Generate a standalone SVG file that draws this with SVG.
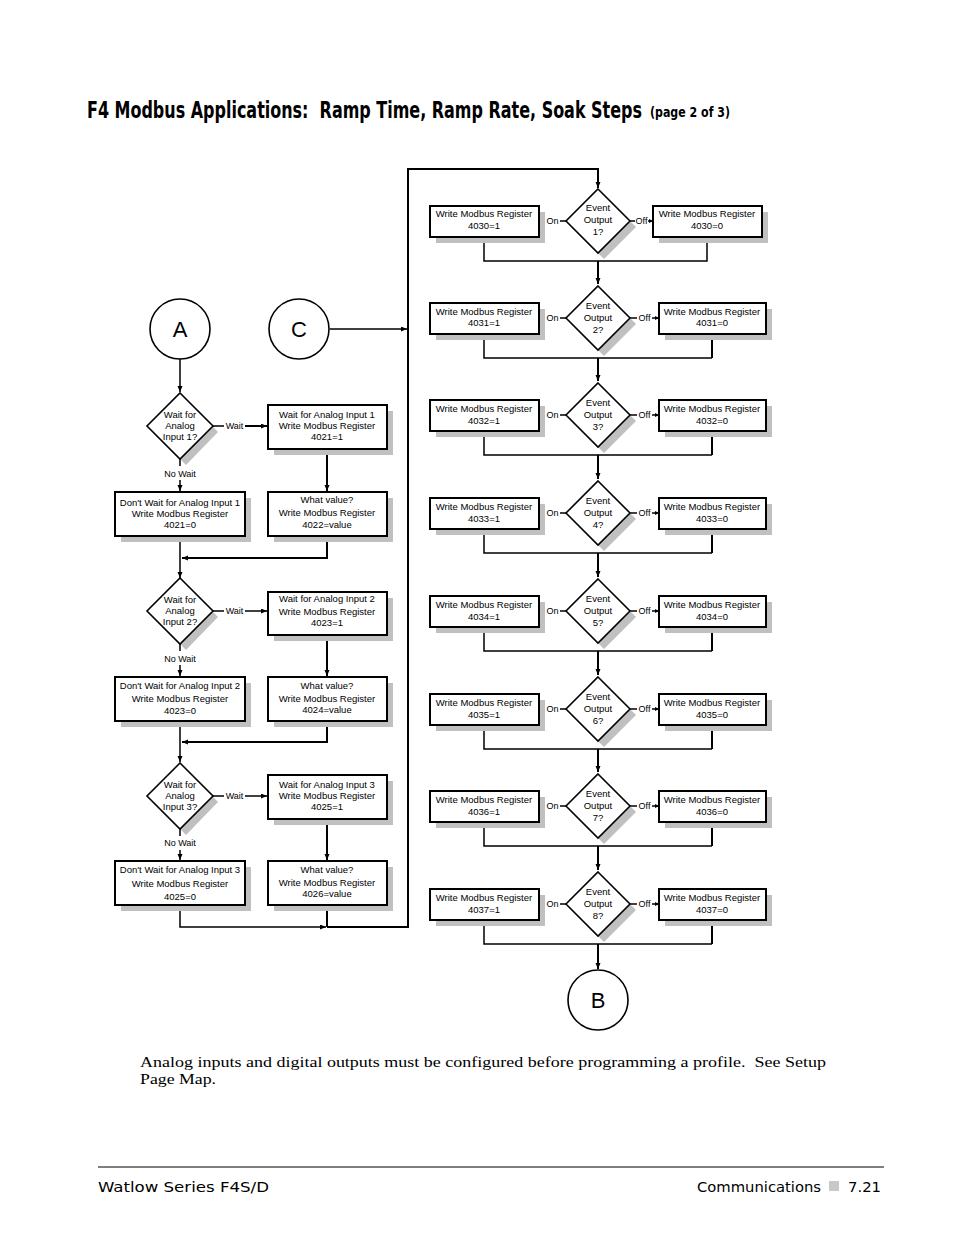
<svg xmlns="http://www.w3.org/2000/svg" width="954" height="1235" viewBox="0 0 954 1235">
<defs>
<style>
.box{fill:#fff;stroke:#000;stroke-width:2}
.sh{fill:#c0c0c0;stroke:none}
.dia{fill:#fff;stroke:#000;stroke-width:1.6}
.cir{fill:#fff;stroke:#000;stroke-width:1.6}
.ln{fill:none;stroke:#000;stroke-width:1.5}
.lt{fill:none;stroke:#000;stroke-width:2}
.t{font-family:"Liberation Sans",Arial,sans-serif;font-size:9.5px;fill:#000;text-anchor:middle}
.lab{font-family:"Liberation Sans",Arial,sans-serif;font-size:9px;fill:#000;text-anchor:middle}
.big{font-family:"Liberation Sans",Arial,sans-serif;font-size:22px;fill:#000;text-anchor:middle}
.hd{font-family:'Liberation Sans Narrow','DejaVu Sans Condensed','Liberation Sans',sans-serif;font-weight:bold;white-space:pre}
</style>
<marker id="ah" markerUnits="userSpaceOnUse" markerWidth="7" markerHeight="6" refX="6" refY="2.5" orient="auto">
<path d="M0,0 L6,2.5 L0,5 z" fill="#000"/>
</marker>
<marker id="as" markerUnits="userSpaceOnUse" markerWidth="5" markerHeight="5" refX="4" refY="2" orient="auto">
<path d="M0,0 L4,2 L0,4 z" fill="#000"/>
</marker>
</defs>
<rect width="954" height="1235" fill="#fff"/>

<g transform="translate(0,118) scale(1,1.5)">
<text class="hd" x="87" y="0" style="font-size:15px" textLength="555" lengthAdjust="spacingAndGlyphs">F4 Modbus Applications:  Ramp Time, Ramp Rate, Soak Steps</text>
<text class="hd" x="650" y="-0.5" style="font-size:9px" textLength="80" lengthAdjust="spacingAndGlyphs">(page 2 of 3)</text>
</g>

<g id="connectors">
<line class="ln" x1="180" y1="359" x2="180" y2="392" marker-end="url(#ah)"/>
<line class="ln" x1="330" y1="329" x2="407" y2="329" marker-end="url(#ah)"/>
<line class="ln" x1="213" y1="426" x2="224" y2="426"/>
<line class="lt" x1="245" y1="426" x2="267" y2="426" marker-end="url(#ah)"/>
<line class="lt" x1="327" y1="449" x2="327" y2="491" marker-end="url(#ah)"/>
<line class="ln" x1="180" y1="459" x2="180" y2="466"/>
<line class="ln" x1="180" y1="480" x2="180" y2="491" marker-end="url(#ah)"/>
<line class="ln" x1="180" y1="536" x2="180" y2="578" marker-end="url(#ah)"/>
<polyline class="lt" points="327,536 327,558 182,558" marker-end="url(#ah)"/>
<line class="ln" x1="213" y1="611" x2="224" y2="611"/>
<line class="ln" x1="245" y1="611" x2="267" y2="611" marker-end="url(#ah)"/>
<line class="lt" x1="327" y1="635" x2="327" y2="676" marker-end="url(#ah)"/>
<line class="ln" x1="180" y1="644" x2="180" y2="651"/>
<line class="ln" x1="180" y1="665" x2="180" y2="676" marker-end="url(#ah)"/>
<line class="ln" x1="180" y1="721" x2="180" y2="762" marker-end="url(#ah)"/>
<polyline class="lt" points="327,721 327,742 182,742" marker-end="url(#ah)"/>
<line class="ln" x1="213" y1="796" x2="224" y2="796"/>
<line class="ln" x1="245" y1="796" x2="267" y2="796" marker-end="url(#ah)"/>
<line class="lt" x1="327" y1="819" x2="327" y2="860" marker-end="url(#ah)"/>
<line class="ln" x1="180" y1="829" x2="180" y2="836"/>
<line class="ln" x1="180" y1="850" x2="180" y2="860" marker-end="url(#ah)"/>
<polyline class="ln" points="180,905 180,927 326,927" marker-end="url(#ah)"/>
<line class="lt" x1="327" y1="905" x2="327" y2="927"/>
<polyline class="lt" points="327,927 408,927 408,169 598,169 598,188" marker-end="url(#ah)"/>

<g>
<line class="ln" x1="566" y1="221" x2="560" y2="221"/><line class="ln" x1="545" y1="221" x2="540" y2="221" marker-end="url(#as)"/>
<line class="ln" x1="630" y1="221" x2="635" y2="221"/><line class="ln" x1="648" y1="221" x2="653" y2="221" marker-end="url(#as)"/>
<polyline class="ln" points="484,237 484,261 707,261 707,237"/>
<line class="lt" x1="598" y1="261" x2="598" y2="284" marker-end="url(#ah)"/>

<line class="ln" x1="566" y1="318" x2="560" y2="318"/><line class="ln" x1="545" y1="318" x2="540" y2="318" marker-end="url(#as)"/>
<line class="ln" x1="630" y1="318" x2="637" y2="318"/><line class="ln" x1="652" y1="318" x2="659" y2="318" marker-end="url(#as)"/>
<polyline class="ln" points="484,334 484,358 712,358"/><line class="lt" x1="712" y1="334" x2="712" y2="358"/>
<line class="lt" x1="598" y1="358" x2="598" y2="381" marker-end="url(#ah)"/>

<line class="ln" x1="566" y1="415" x2="560" y2="415"/><line class="ln" x1="545" y1="415" x2="540" y2="415" marker-end="url(#as)"/>
<line class="ln" x1="630" y1="415" x2="637" y2="415"/><line class="ln" x1="652" y1="415" x2="659" y2="415" marker-end="url(#as)"/>
<polyline class="ln" points="484,431 484,455 712,455"/><line class="lt" x1="712" y1="431" x2="712" y2="455"/>
<line class="lt" x1="598" y1="455" x2="598" y2="479" marker-end="url(#ah)"/>

<line class="ln" x1="566" y1="513" x2="560" y2="513"/><line class="ln" x1="545" y1="513" x2="540" y2="513" marker-end="url(#as)"/>
<line class="ln" x1="630" y1="513" x2="637" y2="513"/><line class="ln" x1="652" y1="513" x2="659" y2="513" marker-end="url(#as)"/>
<polyline class="ln" points="484,529 484,553 712,553"/><line class="lt" x1="712" y1="529" x2="712" y2="553"/>
<line class="lt" x1="598" y1="553" x2="598" y2="577" marker-end="url(#ah)"/>

<line class="ln" x1="566" y1="611" x2="560" y2="611"/><line class="ln" x1="545" y1="611" x2="540" y2="611" marker-end="url(#as)"/>
<line class="ln" x1="630" y1="611" x2="637" y2="611"/><line class="ln" x1="652" y1="611" x2="659" y2="611" marker-end="url(#as)"/>
<polyline class="ln" points="484,627 484,651 712,651"/><line class="lt" x1="712" y1="627" x2="712" y2="651"/>
<line class="lt" x1="598" y1="651" x2="598" y2="675" marker-end="url(#ah)"/>

<line class="ln" x1="566" y1="709" x2="560" y2="709"/><line class="ln" x1="545" y1="709" x2="540" y2="709" marker-end="url(#as)"/>
<line class="ln" x1="630" y1="709" x2="637" y2="709"/><line class="ln" x1="652" y1="709" x2="659" y2="709" marker-end="url(#as)"/>
<polyline class="ln" points="484,725 484,749 712,749"/><line class="lt" x1="712" y1="725" x2="712" y2="749"/>
<line class="lt" x1="598" y1="749" x2="598" y2="772" marker-end="url(#ah)"/>

<line class="ln" x1="566" y1="806" x2="560" y2="806"/><line class="ln" x1="545" y1="806" x2="540" y2="806" marker-end="url(#as)"/>
<line class="ln" x1="630" y1="806" x2="637" y2="806"/><line class="ln" x1="652" y1="806" x2="659" y2="806" marker-end="url(#as)"/>
<polyline class="ln" points="484,822 484,846 712,846"/><line class="lt" x1="712" y1="822" x2="712" y2="846"/>
<line class="lt" x1="598" y1="846" x2="598" y2="870" marker-end="url(#ah)"/>

<line class="ln" x1="566" y1="904" x2="560" y2="904"/><line class="ln" x1="545" y1="904" x2="540" y2="904" marker-end="url(#as)"/>
<line class="ln" x1="630" y1="904" x2="637" y2="904"/><line class="ln" x1="652" y1="904" x2="659" y2="904" marker-end="url(#as)"/>
<polyline class="ln" points="484,920 484,944 712,944"/><line class="lt" x1="712" y1="920" x2="712" y2="944"/>
<line class="lt" x1="598" y1="944" x2="598" y2="969" marker-end="url(#ah)"/>
</g>

<text class="lab" x="234.5" y="429">Wait</text>
<text class="lab" x="180" y="477">No Wait</text>
<text class="lab" x="234.5" y="614">Wait</text>
<text class="lab" x="180" y="662">No Wait</text>
<text class="lab" x="234.5" y="799">Wait</text>
<text class="lab" x="180" y="846">No Wait</text>
<text class="lab" x="552.5" y="224">On</text><text class="lab" x="641.5" y="224">Off</text>
<text class="lab" x="552.5" y="321">On</text><text class="lab" x="644.5" y="321">Off</text>
<text class="lab" x="552.5" y="418">On</text><text class="lab" x="644.5" y="418">Off</text>
<text class="lab" x="552.5" y="516">On</text><text class="lab" x="644.5" y="516">Off</text>
<text class="lab" x="552.5" y="614">On</text><text class="lab" x="644.5" y="614">Off</text>
<text class="lab" x="552.5" y="712">On</text><text class="lab" x="644.5" y="712">Off</text>
<text class="lab" x="552.5" y="809">On</text><text class="lab" x="644.5" y="809">Off</text>
<text class="lab" x="552.5" y="907">On</text><text class="lab" x="644.5" y="907">Off</text>
</g>

<g id="A"><circle class="cir" cx="180" cy="329" r="30"/><text class="big" x="180" y="337">A</text></g>
<g id="C"><circle class="cir" cx="299" cy="329" r="30"/><text class="big" x="299" y="337">C</text></g>
<g id="B"><circle class="cir" cx="598" cy="1000" r="30"/><text class="big" x="598" y="1008">B</text></g>

<g id="dec1"><polygon class="sh" points="186,399 218,432 186,465 154,432"/><polygon class="dia" points="180,393 213,426 180,459 147,426"/>
<text class="t" x="180" y="418">Wait for</text><text class="t" x="180" y="429">Analog</text><text class="t" x="180" y="440">Input 1?</text></g>
<g id="dec2"><polygon class="sh" points="186,584 218,617 186,650 154,617"/><polygon class="dia" points="180,578 213,611 180,644 147,611"/>
<text class="t" x="180" y="603">Wait for</text><text class="t" x="180" y="614">Analog</text><text class="t" x="180" y="625">Input 2?</text></g>
<g id="dec3"><polygon class="sh" points="186,769 218,802 186,835 154,802"/><polygon class="dia" points="180,763 213,796 180,829 147,796"/>
<text class="t" x="180" y="788">Wait for</text><text class="t" x="180" y="799">Analog</text><text class="t" x="180" y="810">Input 3?</text></g>

<g id="wait1"><rect class="sh" x="274" y="411" width="119" height="44"/><rect class="box" x="268" y="405" width="119" height="44"/>
<text class="t" x="327" y="418">Wait for Analog  Input 1</text><text class="t" x="327" y="429">Write Modbus Register</text><text class="t" x="327" y="440">4021=1</text></g>
<g id="what1"><rect class="sh" x="274" y="498" width="119" height="44"/><rect class="box" x="268" y="492" width="119" height="44"/>
<text class="t" x="327" y="503">What value?</text><text class="t" x="327" y="516">Write Modbus Register</text><text class="t" x="327" y="528">4022=value</text></g>
<g id="dont1"><rect class="sh" x="121" y="498" width="130" height="44"/><rect class="box" x="115" y="492" width="130" height="44"/>
<text class="t" x="180" y="506">Don't Wait for Analog Input 1</text><text class="t" x="180" y="517">Write Modbus Register</text><text class="t" x="180" y="528">4021=0</text></g>

<g id="wait2"><rect class="sh" x="274" y="598" width="119" height="43"/><rect class="box" x="268" y="592" width="119" height="43"/>
<text class="t" x="327" y="602">Wait for Analog  Input 2</text><text class="t" x="327" y="615">Write Modbus Register</text><text class="t" x="327" y="626">4023=1</text></g>
<g id="what2"><rect class="sh" x="274" y="683" width="119" height="44"/><rect class="box" x="268" y="677" width="119" height="44"/>
<text class="t" x="327" y="689">What value?</text><text class="t" x="327" y="702">Write Modbus Register</text><text class="t" x="327" y="713">4024=value</text></g>
<g id="dont2"><rect class="sh" x="121" y="683" width="130" height="44"/><rect class="box" x="115" y="677" width="130" height="44"/>
<text class="t" x="180" y="689">Don't Wait for Analog Input 2</text><text class="t" x="180" y="702">Write Modbus Register</text><text class="t" x="180" y="714">4023=0</text></g>

<g id="wait3"><rect class="sh" x="274" y="781" width="119" height="44"/><rect class="box" x="268" y="775" width="119" height="44"/>
<text class="t" x="327" y="788">Wait for Analog Input 3</text><text class="t" x="327" y="799">Write Modbus Register</text><text class="t" x="327" y="810">4025=1</text></g>
<g id="what3"><rect class="sh" x="274" y="867" width="119" height="44"/><rect class="box" x="268" y="861" width="119" height="44"/>
<text class="t" x="327" y="873">What value?</text><text class="t" x="327" y="886">Write Modbus Register</text><text class="t" x="327" y="897">4026=value</text></g>
<g id="dont3"><rect class="sh" x="121" y="867" width="130" height="44"/><rect class="box" x="115" y="861" width="130" height="44"/>
<text class="t" x="180" y="873">Don't Wait for Analog Input 3</text><text class="t" x="180" y="887">Write Modbus Register</text><text class="t" x="180" y="900">4025=0</text></g>

<g id="ev1"><polygon class="sh" points="604,195 636,227 604,259 572,227"/><polygon class="dia" points="598,189 630,221 598,253 566,221"/>
<text class="t" x="598" y="211">Event</text><text class="t" x="598" y="223">Output</text><text class="t" x="598" y="235">1?</text></g>
<g id="on1"><rect class="sh" x="436" y="212" width="109" height="31"/><rect class="box" x="430" y="206" width="109" height="31"/>
<text class="t" x="484" y="217">Write Modbus Register</text><text class="t" x="484" y="229">4030=1</text></g>
<g id="off1"><rect class="sh" x="659" y="212" width="109" height="31"/><rect class="box" x="653" y="206" width="109" height="31"/>
<text class="t" x="707" y="217">Write Modbus Register</text><text class="t" x="707" y="229">4030=0</text></g>

<g id="ev2"><polygon class="sh" points="604,292 636,324 604,356 572,324"/><polygon class="dia" points="598,286 630,318 598,350 566,318"/>
<text class="t" x="598" y="309">Event</text><text class="t" x="598" y="321">Output</text><text class="t" x="598" y="333">2?</text></g>
<g id="on2"><rect class="sh" x="436" y="309" width="109" height="31"/><rect class="box" x="430" y="303" width="109" height="31"/>
<text class="t" x="484" y="315">Write Modbus Register</text><text class="t" x="484" y="326">4031=1</text></g>
<g id="off2"><rect class="sh" x="665" y="309" width="107" height="31"/><rect class="box" x="659" y="303" width="107" height="31"/>
<text class="t" x="712" y="315">Write Modbus Register</text><text class="t" x="712" y="326">4031=0</text></g>

<g id="ev3"><polygon class="sh" points="604,389 636,421 604,453 572,421"/><polygon class="dia" points="598,383 630,415 598,447 566,415"/>
<text class="t" x="598" y="406">Event</text><text class="t" x="598" y="418">Output</text><text class="t" x="598" y="430">3?</text></g>
<g id="on3"><rect class="sh" x="436" y="406" width="109" height="31"/><rect class="box" x="430" y="400" width="109" height="31"/>
<text class="t" x="484" y="412">Write Modbus Register</text><text class="t" x="484" y="424">4032=1</text></g>
<g id="off3"><rect class="sh" x="665" y="406" width="107" height="31"/><rect class="box" x="659" y="400" width="107" height="31"/>
<text class="t" x="712" y="412">Write Modbus Register</text><text class="t" x="712" y="424">4032=0</text></g>

<g id="ev4"><polygon class="sh" points="604,487 636,519 604,551 572,519"/><polygon class="dia" points="598,481 630,513 598,545 566,513"/>
<text class="t" x="598" y="504">Event</text><text class="t" x="598" y="516">Output</text><text class="t" x="598" y="528">4?</text></g>
<g id="on4"><rect class="sh" x="436" y="504" width="109" height="31"/><rect class="box" x="430" y="498" width="109" height="31"/>
<text class="t" x="484" y="510">Write Modbus Register</text><text class="t" x="484" y="522">4033=1</text></g>
<g id="off4"><rect class="sh" x="665" y="504" width="107" height="31"/><rect class="box" x="659" y="498" width="107" height="31"/>
<text class="t" x="712" y="510">Write Modbus Register</text><text class="t" x="712" y="522">4033=0</text></g>

<g id="ev5"><polygon class="sh" points="604,585 636,617 604,649 572,617"/><polygon class="dia" points="598,579 630,611 598,643 566,611"/>
<text class="t" x="598" y="602">Event</text><text class="t" x="598" y="614">Output</text><text class="t" x="598" y="626">5?</text></g>
<g id="on5"><rect class="sh" x="436" y="602" width="109" height="31"/><rect class="box" x="430" y="596" width="109" height="31"/>
<text class="t" x="484" y="608">Write Modbus Register</text><text class="t" x="484" y="620">4034=1</text></g>
<g id="off5"><rect class="sh" x="665" y="602" width="107" height="31"/><rect class="box" x="659" y="596" width="107" height="31"/>
<text class="t" x="712" y="608">Write Modbus Register</text><text class="t" x="712" y="620">4034=0</text></g>

<g id="ev6"><polygon class="sh" points="604,683 636,715 604,747 572,715"/><polygon class="dia" points="598,677 630,709 598,741 566,709"/>
<text class="t" x="598" y="700">Event</text><text class="t" x="598" y="712">Output</text><text class="t" x="598" y="724">6?</text></g>
<g id="on6"><rect class="sh" x="436" y="700" width="109" height="31"/><rect class="box" x="430" y="694" width="109" height="31"/>
<text class="t" x="484" y="706">Write Modbus Register</text><text class="t" x="484" y="718">4035=1</text></g>
<g id="off6"><rect class="sh" x="665" y="700" width="107" height="31"/><rect class="box" x="659" y="694" width="107" height="31"/>
<text class="t" x="712" y="706">Write Modbus Register</text><text class="t" x="712" y="718">4035=0</text></g>

<g id="ev7"><polygon class="sh" points="604,780 636,812 604,844 572,812"/><polygon class="dia" points="598,774 630,806 598,838 566,806"/>
<text class="t" x="598" y="797">Event</text><text class="t" x="598" y="809">Output</text><text class="t" x="598" y="821">7?</text></g>
<g id="on7"><rect class="sh" x="436" y="797" width="109" height="31"/><rect class="box" x="430" y="791" width="109" height="31"/>
<text class="t" x="484" y="803">Write Modbus Register</text><text class="t" x="484" y="815">4036=1</text></g>
<g id="off7"><rect class="sh" x="665" y="797" width="107" height="31"/><rect class="box" x="659" y="791" width="107" height="31"/>
<text class="t" x="712" y="803">Write Modbus Register</text><text class="t" x="712" y="815">4036=0</text></g>

<g id="ev8"><polygon class="sh" points="604,878 636,910 604,942 572,910"/><polygon class="dia" points="598,872 630,904 598,936 566,904"/>
<text class="t" x="598" y="895">Event</text><text class="t" x="598" y="907">Output</text><text class="t" x="598" y="919">8?</text></g>
<g id="on8"><rect class="sh" x="436" y="895" width="109" height="31"/><rect class="box" x="430" y="889" width="109" height="31"/>
<text class="t" x="484" y="901">Write Modbus Register</text><text class="t" x="484" y="913">4037=1</text></g>
<g id="off8"><rect class="sh" x="665" y="895" width="107" height="31"/><rect class="box" x="659" y="889" width="107" height="31"/>
<text class="t" x="712" y="901">Write Modbus Register</text><text class="t" x="712" y="913">4037=0</text></g>

<text x="140" y="1067" style="font-family:'Liberation Serif','Times New Roman',serif;font-size:15px;white-space:pre" textLength="686" lengthAdjust="spacingAndGlyphs">Analog inputs and digital outputs must be configured before programming a profile.  See Setup</text>
<text x="140" y="1084" style="font-family:'Liberation Serif','Times New Roman',serif;font-size:15px" textLength="76" lengthAdjust="spacingAndGlyphs">Page Map.</text>

<line x1="98" y1="1167" x2="884" y2="1167" stroke="#000" stroke-width="1"/>
<text x="98" y="1192" style="font-family:'Liberation Sans Narrow','DejaVu Sans Condensed','Liberation Sans',sans-serif;font-size:14px" textLength="171" lengthAdjust="spacingAndGlyphs">Watlow Series F4S/D</text>
<text x="697" y="1192" style="font-family:'Liberation Sans Narrow','DejaVu Sans Condensed','Liberation Sans',sans-serif;font-size:14px" textLength="124" lengthAdjust="spacingAndGlyphs">Communications</text>
<rect x="829" y="1181" width="10" height="10" fill="#c8c8c8"/>
<text x="848" y="1192" style="font-family:'Liberation Sans Narrow','DejaVu Sans Condensed','Liberation Sans',sans-serif;font-size:14px" textLength="33" lengthAdjust="spacingAndGlyphs">7.21</text>
</svg>
